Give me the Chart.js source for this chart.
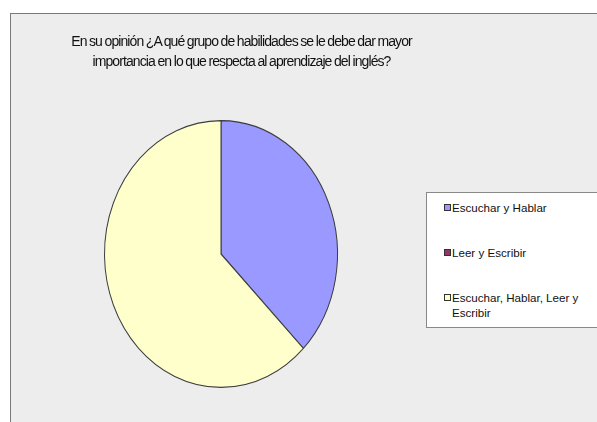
<!DOCTYPE html>
<html>
<head>
<meta charset="utf-8">
<script src="https://cdn.jsdelivr.net/npm/chart.js@4"></script>
<style>
    html, body { margin: 0; padding: 0; background: #fff; }
    #frame {
        position: absolute; left: 10px; top: 13px; width: 600px; height: 420px;
        background: #ededed; border-left: 1px solid #7a7a7a; border-top: 1px solid #7a7a7a;
    }
    #title {
        position: absolute; left: 0; width: 483px; top: 31px;
        text-align: center; font: 14px "Liberation Sans", Arial, sans-serif;
        letter-spacing: -0.9px; word-spacing: -0.5px; line-height: 20px; color: #111;
    }
    #chart { position: absolute; left: 0; top: 0; }
    #legend {
        position: absolute; left: 426px; top: 192px; width: 175px; height: 134px;
        background: #fff; border: 1px solid #888;
    }
    .item {
        position: absolute; left: 17px; width: 150px;
        font: 11.6px "Liberation Sans", Arial, sans-serif; color: #111; line-height: 15px;
    }
    .item i {
        position: absolute; left: 0; top: 4px; width: 5px; height: 5px; border: 1px solid #333;
    }
    .item span { display: block; margin-left: 8px; }
</style>
</head>
<body>
<div id="frame"></div>
<canvas id="chart" width="597" height="422"></canvas>
<div id="title"></div>
<div id="legend"></div>
<script>
const titleLines = ['En su opinión ¿A qué grupo de habilidades se le debe dar mayor', 'importancia en lo que respecta al aprendizaje del inglés?'];
const labels = ['Escuchar y Hablar', 'Leer y Escribir', 'Escuchar, Hablar, Leer y Escribir'];
const values = [15, 0, 25];
const colors = ['#9999ff', '#993366', '#ffffcc'];
const legendTops = [7, 52, 97];

// the original pie is a bit taller than wide
const SQUASH = 134 / 117;

const ellipse = {
    id: 'ellipse',
    beforeDatasetsDraw(chart) {
        const { ctx, chartArea } = chart;
        const cy = (chartArea.top + chartArea.bottom) / 2;
        ctx.save();
        ctx.translate(0, cy);
        ctx.scale(1, SQUASH);
        ctx.translate(0, -cy);
    },
    afterDatasetsDraw(chart) {
        chart.ctx.restore();
    }
};

document.getElementById('title').innerHTML = titleLines.join('<br>');

const legend = document.getElementById('legend');
labels.forEach((label, i) => {
    const row = document.createElement('div');
    row.className = 'item';
    row.style.top = legendTops[i] + 'px';
    row.innerHTML = '<i style="background:' + colors[i] + '"></i><span>' + label + '</span>';
    legend.appendChild(row);
});

new Chart(document.getElementById('chart').getContext('2d'), {
    type: 'pie',
    data: {
        labels,
        datasets: [{
            data: values,
            backgroundColor: colors,
            borderColor: '#3c3c3c',
            borderWidth: 1
        }]
    },
    options: {
        responsive: false,
        animation: false,
        layout: { padding: { left: 104, right: 259, top: 137, bottom: 51 } },
        plugins: {
            legend: { display: false },
            tooltip: { enabled: false }
        }
    },
    plugins: [ellipse]
});
</script>
</body>
</html>
